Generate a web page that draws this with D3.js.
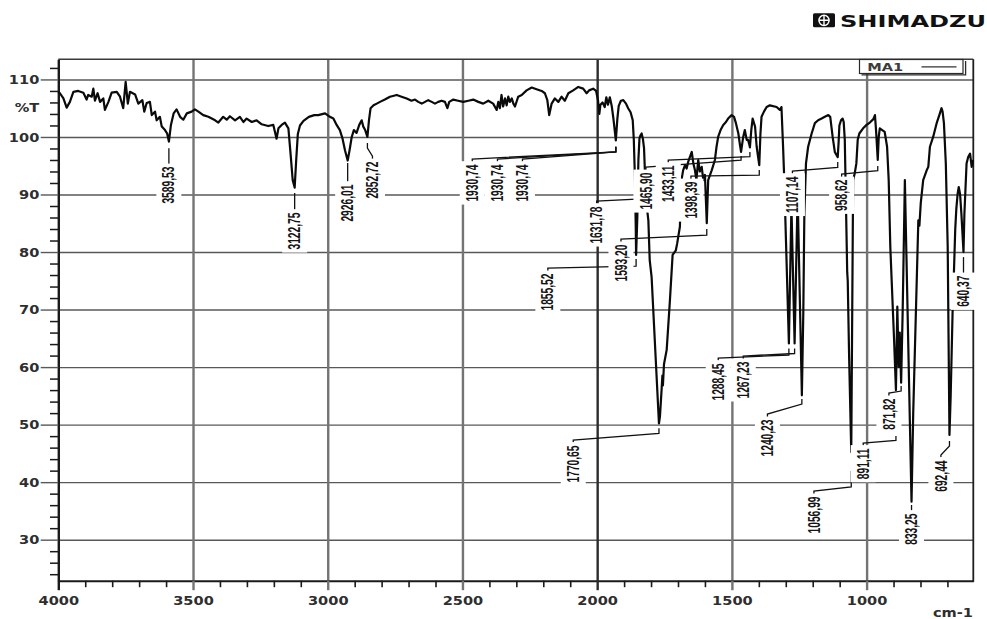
<!DOCTYPE html>
<html>
<head>
<meta charset="utf-8">
<title>IR spectrum – MA1</title>
<script src="https://cdn.jsdelivr.net/npm/d3@7/dist/d3.min.js"></script>
<style>
  html, body { margin: 0; padding: 0; background: #fff; }
  svg { display: block; }
  .tick-label { font-family: "DejaVu Sans", Verdana, sans-serif; font-weight: bold; font-size: 11.5px; fill: #2e2e2e; }
  .peak-label { font-family: "Liberation Sans", Arial, sans-serif; font-weight: bold; font-size: 16px; fill: #141414; }
</style>
</head>
<body>
<svg id="chart" width="987" height="619"></svg>
<script>
// ---- spectrum: [wavenumber cm-1, %T] ----
const spectrum = [
  [4000,107.8],[3994,107.6],[3981,106.7],[3969,105.1],[3957,106.1],[3944,107.85],[3926,108.0],[3907,107.7],
  [3895,106.5],[3889,107.3],[3876,107.0],[3870,108.4],[3864,106.3],[3854,107.6],[3845,106.1],[3833,106.7],
  [3827,104.7],[3814,106.1],[3802,107.7],[3783,107.85],[3771,107.0],[3759,105.0],[3750,109.6],[3742,105.8],
  [3734,107.85],[3715,107.4],[3703,105.8],[3688,106.4],[3681,104.4],[3672,105.9],[3660,106.1],[3653,103.8],
  [3641,104.4],[3635,102.9],[3623,103.5],[3616,101.8],[3604,101.2],[3596,100.6],[3589.53,99.2],[3582,102.1],
  [3572,104.1],[3561,104.8],[3548,103.5],[3536,103.0],[3523,104.1],[3505,104.4],[3493,104.8],[3480,104.4],
  [3462,103.8],[3443,103.5],[3418,102.9],[3406,102.5],[3388,103.5],[3375,103.0],[3363,103.6],[3344,102.9],
  [3326,103.5],[3313,102.6],[3301,103.2],[3282,102.6],[3264,102.9],[3245,102.2],[3221,101.9],[3202,102.1],
  [3196,100.9],[3190,99.7],[3183,101.5],[3171,102.1],[3159,102.5],[3146,101.5],[3138,97.1],[3130,92.5],
  [3122.75,91.2],[3117,96.0],[3111,100.5],[3103,102.0],[3090,102.8],[3070,103.5],[3050,103.8],[3035,103.8],
  [3010,104.1],[2992,103.5],[2979,103.2],[2967,102.1],[2955,101.2],[2945,99.7],[2936,97.7],[2926.01,95.9],
  [2919,97.7],[2911,100.0],[2903,101.2],[2893,100.7],[2883,102.1],[2874,102.9],[2868,101.8],[2861,101.2],
  [2852.72,100.0],[2847,102.9],[2841,105.0],[2830,105.5],[2818,105.8],[2806,106.1],[2788,106.5],[2769,107.0],
  [2744,107.3],[2726,107.0],[2707,106.7],[2689,106.3],[2676,106.5],[2664,106.1],[2651,105.8],[2639,106.1],
  [2627,106.4],[2614,106.1],[2602,105.8],[2590,106.1],[2577,106.3],[2565,106.1],[2556,105.0],[2549,106.1],
  [2534,106.5],[2516,106.3],[2497,106.1],[2478,106.3],[2460,106.5],[2441,106.1],[2423,105.8],[2404,106.3],
  [2386,105.8],[2373,104.7],[2367,106.1],[2361,105.0],[2355,107.3],[2349,105.3],[2342,106.7],[2336,105.5],
  [2330,107.0],[2324,106.1],[2317,106.7],[2311,105.8],[2305,105.3],[2293,107.0],[2280,107.3],[2262,108.1],
  [2243,108.6],[2225,108.3],[2206,108.0],[2194,107.6],[2185,106.4],[2178,103.8],[2169,105.8],[2157,106.7],
  [2144,106.1],[2132,107.0],[2120,106.3],[2107,107.6],[2089,108.1],[2070,108.7],[2052,108.4],[2039,107.6],
  [2030,108.1],[2015,108.4],[2004,108.0],[1997,106.4],[1992,104.0],[1988,105.6],[1980,106.0],[1972,105.2],
  [1966,106.9],[1960,105.6],[1953,106.9],[1946,105.4],[1940,103.3],[1930.74,99.4],[1925,103.2],[1920,105.4],
  [1912,106.3],[1903,106.4],[1893,105.8],[1885,105.0],[1876,104.3],[1868,102.9],[1864,99.5],[1860,93.0],
  [1857,85.0],[1855.52,79.5],[1851,86.0],[1847,96.0],[1843,99.8],[1839,100.3],[1835,100.6],[1830,99.6],
  [1826,98.0],[1822,93.0],[1816,88.0],[1810,85.5],[1805,78.6],[1798,75.7],[1770.65,50.2],[1767,51.4],
  [1761,56.0],[1758,58.5],[1756,56.8],[1752,60.5],[1742,63.0],[1730,71.6],[1720,79.5],[1708,80.3],
  [1703,81.5],[1693,84.4],[1687,92.5],[1681,94.2],[1674,95.1],[1668,94.5],[1662,95.7],[1656,96.5],
  [1649,97.4],[1643,95.4],[1637,94.2],[1631.78,92.5],[1625,96.0],[1619,94.0],[1612,94.8],[1606,92.5],
  [1600,93.4],[1593.20,85.0],[1588,92.5],[1575,94.2],[1563,96.0],[1557,98.3],[1551,100.0],[1542,101.2],
  [1532,102.1],[1522,102.6],[1514,103.2],[1501,103.8],[1492,103.5],[1485,102.4],[1476,100.6],[1470,98.6],
  [1465.90,97.4],[1458,100.0],[1452,101.2],[1445,99.5],[1440,99.5],[1436,98.8],[1433.11,98.2],[1428,101.2],
  [1423,103.2],[1414,101.8],[1408,98.3],[1398.39,95.1],[1394,100.6],[1390,103.5],[1381,104.4],[1371,105.2],
  [1359,105.5],[1334,105.2],[1322,104.7],[1316,105.2],[1310,98.3],[1306,93.1],[1288.45,64.1],[1279,88.0],
  [1267.23,64.1],[1256,90.0],[1240.23,55.1],[1235,69.3],[1231,86.7],[1225,95.4],[1217,98.3],[1204,100.6],
  [1192,102.4],[1180,102.9],[1167,103.2],[1155,103.5],[1142,103.8],[1135,103.5],[1126,100.0],[1118,97.4],
  [1107.14,96.5],[1104,99.0],[1101,102.0],[1095,102.9],[1089,103.2],[1085,102.6],[1081,99.5],[1076,86.7],
  [1072,76.5],[1070,75.0],[1065,62.0],[1056.99,45.2],[1050,92.5],[1044,93.7],[1038,95.4],[1033,99.5],
  [1027,100.6],[1013,101.5],[1000,102.1],[988,102.5],[975,103.1],[969,103.8],[965,101.2],[958.62,96.0],
  [955,100.0],[951,101.5],[942,101.2],[933,100.9],[924,98.3],[918,92.5],[912,80.9],[907,75.1],
  [898,64.7],[891.11,56.0],[886,70.5],[881,60.0],[877,66.0],[871.82,57.3],[866,70.0],[858,92.5],
  [833.25,36.6],[827,52.0],[808,85.5],[804,84.6],[799,88.5],[790,92.5],[777,94.2],[771,94.8],
  [765,98.3],[753,100.0],[740,102.4],[728,104.1],[722,105.0],[718,104.4],[713,102.4],[706,95.4],
  [699,80.9],[692.44,48.2],[688,55.0],[681,69.3],[676,76.3],[671,84.0],[667,87.5],[662,90.2],
  [658,91.3],[653,90.0],[648,86.5],[640.37,80.0],[637,86.7],[629,95.4],[623,96.5],[616,97.1],
  [610,94.8],[605,96.0]
];

// ---- picked peaks (cm-1) ----
const peakWavenumbers = [
  3589.53, 3122.75, 2926.01, 2852.72, 1930.74, 1930.74, 1930.74, 1631.78, 1855.52, 1593.20,
  1465.90, 1433.11, 1398.39, 1770.65, 1288.45, 1267.23, 1240.23, 1107.14, 1056.99, 958.62,
  891.11, 871.82, 833.25, 692.44, 640.37
];

// label placement: [label centre cm-1, label top %T, leader elbow %T, leader tip %T]
const labelAnchors = [
  [3589.53, 95.11, 95.11, 98.06], [3122.75, 87.12, 87.12, 90.24], [2926.01, 91.98, 91.98, 95.46],
  [2834.0, 95.98, 98.06, 98.93],  [2463.6, 95.46, 97.42, 98.29],  [2370.1, 95.46, 97.42, 98.29],
  [2277.3, 95.46, 97.42, 98.29],  [2001.9, 88.16, 89.72, 91.29],  [2183.0, 76.52, 77.56, 78.78],
  [1911.7, 81.56, 82.95, 83.99],  [1819.0, 94.07, 95.98, 96.67],  [1736.2, 95.28, 96.59, 97.37],
  [1652.0, 92.50, 93.37, 94.24],  [2088.8, 46.63, 48.49, 49.36],  [1550.7, 60.88, 62.10, 63.22],
  [1457.9, 61.23, 62.36, 63.22],  [1368.1, 51.15, 53.58, 54.45],  [1275.3, 93.37, 94.71, 95.63],
  [1195.5, 37.77, 39.16, 41.94],  [1092.7, 92.85, 94.15, 94.94],  [1012.6, 46.11, 47.24, 48.02],
  [917.2, 54.80, 55.84, 56.71],   [833.25, 34.81, 34.81, 36.03],  [724.2, 44.03, 46.28, 47.15],
  [640.37, 76.17, 76.17, 79.12]
];

// ---- axes ----
const xRange = [4000, 604];
const yRange = [22.87, 113.5];
const xMajorTicks = [4000, 3500, 3000, 2500, 2000, 1500, 1000];
const xMinorTicks = [3900, 3800, 3700, 3600, 3400, 3300, 3200, 3100, 2900, 2800, 2700, 2600,
  2400, 2300, 2200, 2100, 1900, 1800, 1700, 1600, 1400, 1300, 1200, 1100, 900, 800, 700];
const yMajorTicks = [30, 40, 50, 60, 70, 80, 90, 100, 110];
const yMinorTicks = [24, 26, 28, 32, 34, 36, 38, 42, 44, 46, 48, 52, 54, 56, 58, 62, 64, 66, 68,
  72, 74, 76, 78, 82, 84, 86, 88, 92, 94, 96, 98, 102, 104, 106, 108, 112];
const xUnit = "cm-1";
const yUnit = "%T";
const yUnitAt = 105;
const seriesName = "MA1";
const brand = "SHIMADZU";

// ---- layout ----
const frame = { left: 58.3, right: 973.3, top: 59.3, bottom: 580.7 };
const svg = d3.select("#chart");

const x = d3.scaleLinear().domain(xRange).range([frame.left, frame.right]);
const y = d3.scaleLinear().domain(yRange).range([frame.bottom, frame.top]);

const tickScale = 1.27;

// horizontal grid
svg.append("g")
  .attr("transform", `translate(${frame.left},0)`)
  .call(d3.axisLeft(y).tickValues(yMajorTicks).tickSize(-(frame.right - frame.left)).tickSizeOuter(0).tickFormat(""))
  .call(g => g.select(".domain").remove())
  .selectAll(".tick line").attr("stroke", "#585858").attr("stroke-width", 1.4);

// vertical grid (the 2000 line is drawn darker)
svg.append("g")
  .attr("transform", `translate(0,${frame.bottom})`)
  .call(d3.axisBottom(x).tickValues(xMajorTicks.slice(1)).tickSize(-(frame.bottom - frame.top)).tickSizeOuter(0).tickFormat(""))
  .call(g => g.select(".domain").remove())
  .selectAll(".tick line")
  .attr("stroke", d => d === 2000 ? "#2c2c2c" : "#747474")
  .attr("stroke-width", 2.4);

// frame top and right edge
svg.append("line").attr("x1", frame.left).attr("x2", frame.right).attr("y1", frame.top).attr("y2", frame.top)
  .attr("stroke", "#3a3a3a").attr("stroke-width", 1.4);
svg.append("line").attr("x1", frame.right).attr("x2", frame.right).attr("y1", frame.top).attr("y2", frame.bottom + 1)
  .attr("stroke", "#1e1e1e").attr("stroke-width", 1.8);

// minor ticks
svg.append("g")
  .attr("transform", `translate(0,${frame.bottom})`)
  .call(d3.axisBottom(x).tickValues(xMinorTicks).tickSize(6.5).tickSizeOuter(0).tickFormat(""))
  .call(g => g.select(".domain").remove())
  .selectAll(".tick line").attr("stroke", "#1a1a1a").attr("stroke-width", 1.6);
svg.append("g")
  .attr("transform", `translate(${frame.left},0)`)
  .call(d3.axisLeft(y).tickValues(yMinorTicks).tickSize(8.3).tickSizeOuter(0).tickFormat(""))
  .call(g => g.select(".domain").remove())
  .selectAll(".tick line").attr("stroke", "#1a1a1a").attr("stroke-width", 1.5);

// bottom axis
const xAxis = svg.append("g")
  .attr("transform", `translate(0,${frame.bottom})`)
  .call(d3.axisBottom(x).tickValues(xMajorTicks).tickSize(9.5).tickSizeOuter(0).tickFormat(d3.format("d")));
xAxis.select(".domain").attr("stroke", "#1a1a1a").attr("stroke-width", 2);
xAxis.selectAll(".tick line")
  .attr("stroke", d => d === 4000 ? "#1a1a1a" : (d === 2000 ? "#2c2c2c" : "#747474"))
  .attr("stroke-width", 2.4);
xAxis.selectAll(".tick text")
  .attr("class", "tick-label").attr("y", 24.3).attr("dy", 0)
  .attr("transform", `scale(${tickScale},1)`);

// left axis
const yAxis = svg.append("g")
  .attr("transform", `translate(${frame.left},0)`)
  .call(d3.axisLeft(y).tickValues(yMajorTicks).tickSize(17.6).tickSizeOuter(0));
yAxis.select(".domain").attr("stroke", "#1a1a1a").attr("stroke-width", 2.4);
yAxis.selectAll(".tick line").attr("stroke", "#585858").attr("stroke-width", 1.4);
yAxis.selectAll(".tick text")
  .attr("class", "tick-label").attr("x", -19 / tickScale).attr("dy", "0.36em")
  .attr("transform", `scale(${tickScale},1)`);

// unit labels
svg.append("text").attr("class", "tick-label").attr("text-anchor", "end")
  .attr("transform", `translate(39.3,${y(yUnitAt) + 4}) scale(${tickScale},1)`)
  .text(yUnit);
svg.append("text").attr("class", "tick-label").attr("text-anchor", "end")
  .attr("transform", `translate(973,617) scale(${tickScale},1)`)
  .text(xUnit);

// spectrum trace
svg.append("path")
  .datum(spectrum)
  .attr("d", d3.line().x(d => x(d[0])).y(d => y(d[1])))
  .attr("fill", "none")
  .attr("stroke", "#0a0a0a")
  .attr("stroke-width", 2.2)
  .attr("stroke-linejoin", "round");

// peak annotations
const fmtPeak = v => d3.format(".2f")(v).replace(".", ",");
const annotations = peakWavenumbers.map((wn, i) => ({
  wn, text: fmtPeak(wn),
  lx: labelAnchors[i][0], top: labelAnchors[i][1], elbow: labelAnchors[i][2], tip: labelAnchors[i][3]
}));

const leaderLayer = svg.append("g");
annotations.forEach(a => {
  const lx = x(a.lx), px = x(a.wn), ty = y(a.top);
  let d;
  if (a.lx === a.wn) {
    d = `M${px},${ty}V${y(a.tip)}`;
  } else {
    d = `M${lx},${ty}V${ty - 4}L${px},${y(a.elbow)}V${y(a.tip)}`;
  }
  leaderLayer.append("path").attr("d", d).attr("fill", "none")
    .attr("stroke", "#111").attr("stroke-width", 1.3);
});

const squeeze = 0.64;
const labelLayer = svg.append("g");
annotations.forEach(a => {
  const g = labelLayer.append("g")
    .attr("transform", `translate(${x(a.lx)},${y(a.top) + 1.5}) rotate(-90) scale(${squeeze},1)`);
  const t = g.append("text").attr("class", "peak-label")
    .attr("text-anchor", "end").attr("x", 0).attr("dy", "0.35em").text(a.text);
  const bb = t.node().getBBox();
  g.insert("rect", "text")
    .attr("x", bb.x - 3 / squeeze).attr("y", -12.5)
    .attr("width", bb.width + 6 / squeeze).attr("height", 25)
    .attr("fill", "#fff");
});

// legend
const legend = svg.append("g");
legend.append("path").attr("d", "M861.5,74.9H965.6V61").attr("fill", "none")
  .attr("stroke", "#2a2a2a").attr("stroke-width", 1.3);
legend.append("rect").attr("x", 859.5).attr("y", 59.5).attr("width", 103.5).attr("height", 14)
  .attr("fill", "#fff").attr("stroke", "#2a2a2a").attr("stroke-width", 1.2);
legend.append("text").attr("x", 867.3).attr("y", 71)
  .attr("textLength", 36).attr("lengthAdjust", "spacingAndGlyphs")
  .style("font-family", "'DejaVu Sans', sans-serif").style("font-weight", "bold")
  .style("font-size", "10.5px").style("fill", "#3c3c3c")
  .text(seriesName);
legend.append("line").attr("x1", 921.5).attr("x2", 956.5).attr("y1", 66.8).attr("y2", 66.8)
  .attr("stroke", "#333").attr("stroke-width", 1.3);

// maker mark
const logo = svg.append("g");
logo.append("rect").attr("x", 813).attr("y", 13.3).attr("width", 22).attr("height", 14).attr("rx", 1.5)
  .attr("fill", "#111");
logo.append("circle").attr("cx", 824).attr("cy", 20.3).attr("r", 5.1)
  .attr("fill", "none").attr("stroke", "#fff").attr("stroke-width", 1.5);
logo.append("path").attr("d", "M819,20.3H829M824,15.3V25.3")
  .attr("stroke", "#fff").attr("stroke-width", 1.4);
logo.append("text").attr("x", 840).attr("y", 26.7)
  .attr("textLength", 146).attr("lengthAdjust", "spacingAndGlyphs")
  .style("font-family", "'DejaVu Sans', sans-serif").style("font-weight", "bold")
  .style("font-size", "16px").style("fill", "#111")
  .text(brand);
</script>
</body>
</html>
